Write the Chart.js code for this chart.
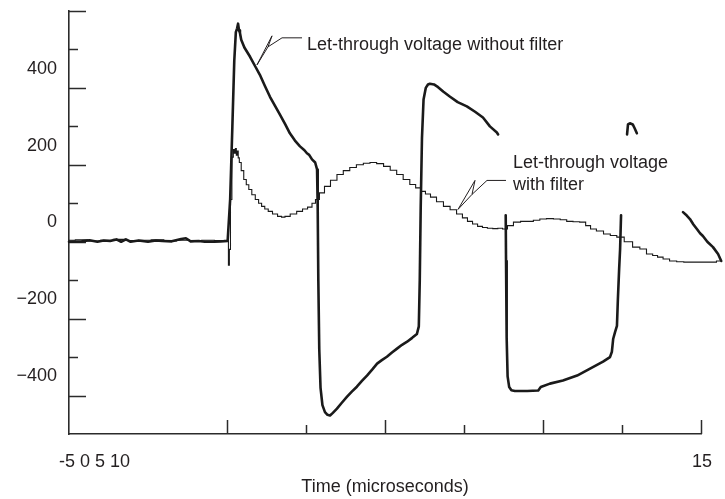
<!DOCTYPE html>
<html>
<head>
<meta charset="utf-8">
<script src="https://cdn.jsdelivr.net/npm/chart.js@4.4.1/dist/chart.umd.min.js"></script>
<style>
html,body{margin:0;padding:0;background:#fff;}
#wrap{width:725px;height:499px;position:relative;}
</style>
</head>
<body>
<div id="wrap"><canvas id="c" width="725" height="499"></canvas></div>
<script>
// ---------- data (time in microseconds, voltage) ----------
const seriesNames = ['Let-through voltage without filter', 'Let-through voltage with filter'];

// thick trace: null marks the parts of the trace that are not visible
const withoutFilter = [
  [-5,-50],[-4.6,-49],[-4.35,-46],[-4.1,-50],[-3.9,-47],[-3.7,-48],[-3.5,-44],[-3.35,-50],[-3.2,-44],[-3.05,-50],
  [-2.8,-47],[-2.5,-50],[-2.25,-47],[-2.05,-48],[-1.75,-49],[-1.45,-43],[-1.3,-41],[-1.15,-49],[-0.9,-48],[-0.7,-50],
  [-0.4,-50],[-0.2,-49],[0.02,-48],
  [0.1,60],[0.17,250],[0.23,420],[0.28,495],[0.32,505],[0.35,517],[0.38,500],[0.41,493],[0.45,475],
  [0.55,455],[0.73,431],[0.9,405],[1.04,384],[1.2,355],[1.36,327],[1.52,303],[1.68,280],[1.84,256],[1.99,232],
  [2.15,213],[2.31,198],[2.45,188],[2.53,180],[2.6,176],[2.69,164],[2.79,156],[2.85,138],
  [2.87,40],[2.89,-150],[2.92,-330],[2.96,-430],[3.02,-475],[3.1,-493],[3.18,-500],[3.26,-502],
  [3.35,-495],[3.48,-484],[3.62,-470],[3.8,-453],[3.95,-440],[4.11,-427],[4.27,-412],[4.43,-398],[4.6,-382],
  [4.75,-367],[4.9,-358],[5.06,-349],[5.22,-338],[5.38,-328],[5.54,-318],[5.7,-310],[5.86,-300],[6.01,-290],[6.07,-270],
  [6.1,-150],[6.13,40],[6.17,220],[6.22,320],[6.29,350],[6.36,359],[6.42,361],[6.55,359],[6.68,352],[6.85,340],
  [7.06,327],[7.3,313],[7.59,302],[7.85,288],[8.1,273],[8.32,250],[8.54,234],[8.58,229],
  [8.7,null],
  [8.82,19],[8.83,-100],[8.85,-300],[8.88,-400],[8.93,-428],[9.0,-436],[9.11,-438],[9.5,-438],[9.85,-437],[9.93,-428],
  [10.22,-419],[10.63,-411],[11.08,-398],[11.49,-380],[11.9,-362],[12.12,-350],[12.18,-336],[12.22,-303],[12.28,-285],
  [12.34,-269],[12.37,-199],[12.41,-120],[12.44,-69],[12.47,19],
  [12.55,null],
  [12.66,229],[12.69,255],[12.75,258],[12.84,255],[12.9,245],[12.97,232],
  [13.5,null],
  [14.43,27],[14.55,18],[14.65,9],[14.76,-5],[14.87,-17],[14.97,-28],[15.06,-35],[15.2,-50],[15.38,-64],[15.54,-82],[15.64,-100]
];

// thin trace
const withFilter = [
  [-5,-46],[-4.6,-45],[-4.2,-48],[-3.8,-46],[-3.4,-44],[-3.0,-47],[-2.6,-46],[-2.2,-45],[-1.8,-48],[-1.4,-46],
  [-1.0,-47],[-0.6,-46],[-0.2,-47],[0.03,-46],[0.06,-111],[0.09,-70],[0.13,60],[0.18,170],[0.22,190],[0.25,180],
  [0.28,192],[0.31,175],[0.34,186],[0.37,168],[0.41,156],[0.49,135],[0.57,112],[0.65,98],[0.73,86],[0.84,72],
  [0.95,60],[1.05,50],[1.14,42],[1.25,35],[1.36,29],[1.52,22],[1.68,16],[1.77,14],[1.9,16],[2.1,22],
  [2.31,29],[2.47,35],[2.63,40],[2.75,50],[2.85,60],[3.0,77],[3.17,94],[3.38,110],[3.58,125],[3.78,135],
  [3.99,143],[4.2,150],[4.43,154],[4.62,156],[4.85,153],[5.06,146],[5.27,136],[5.47,125],[5.68,112],[5.89,99],
  [6.05,90],[6.2,81],[6.36,74],[6.52,66],[6.74,54],[6.96,42],[7.16,33],[7.37,22],[7.53,12],[7.69,3],
  [7.85,-4],[8.01,-10],[8.16,-13],[8.32,-15],[8.5,-16],[8.64,-15],[8.8,-17],[8.95,-8],[9.18,1],[9.4,3],
  [9.59,3],[9.8,6],[10.0,9],[10.22,10],[10.44,9],[10.65,7],[10.85,3],[11.05,2],[11.27,1],[11.43,-8],
  [11.58,-17],[11.8,-22],[12.03,-30],[12.23,-34],[12.44,-38],[12.7,-50],[12.97,-64],[13.16,-69],[13.39,-82],[13.55,-86],
  [13.7,-90],[13.9,-95],[14.11,-100],[14.35,-102],[14.56,-103],[14.8,-103],[14.97,-103],[15.2,-103],[15.38,-103],[15.6,-100]
];

// axis ticks / labels
const xRange = [-5, 15];
const yRange = [-550, 550];
const xTickLabels = ['-5 0 5 10', '15'];
const xMarkValues = [0, 2.5, 5, 7.5, 10, 12.5, 15];
const yTickLabelValues = [-400, -200, 0, 200, 400];
const yMarkValues = [450, 350, 250, 150, 50, -50, -150, -250, -350, -450, 550];
const xTitle = 'Time (microseconds)';

// annotations: arrow tip in data units
const annotations = [
  { tip: [0.95, 410], text: ['Let-through voltage without filter'] },
  { tip: [7.31, 34], text: ['Let-through voltage', 'with filter'] }
];

// ---------- chart ----------
const FONT = '"Liberation Sans", Arial, Helvetica, sans-serif';
const INK = '#231f20';
const AXIS = '#2b2b2b';
Chart.defaults.font.family = FONT;
Chart.defaults.color = INK;

const toPts = arr => arr.map(p => ({ x: p[0], y: p[1] }));

const decor = {
  id: 'decor',
  beforeDatasetsDraw(chart) {
    const { ctx, chartArea, scales: { x, y } } = chart;
    ctx.save();
    ctx.strokeStyle = AXIS;
    ctx.lineWidth = 1.5;
    // inward y tick marks
    yMarkValues.forEach(v => {
      const py = Math.round(y.getPixelForValue(v)) + 0.5;
      const len = ((550 - v) % 200 === 0) ? 17 : 9;
      ctx.beginPath(); ctx.moveTo(chartArea.left, py); ctx.lineTo(chartArea.left + len, py); ctx.stroke();
    });
    // inward x tick marks
    xMarkValues.forEach(v => {
      const px = Math.round(x.getPixelForValue(v)) + 0.5;
      const len = (v % 5 === 0) ? 14 : 9;
      ctx.beginPath(); ctx.moveTo(px, chartArea.bottom); ctx.lineTo(px, chartArea.bottom - len); ctx.stroke();
    });
    ctx.restore();
  },
  afterDraw(chart) {
    const { ctx, chartArea, scales: { x, y } } = chart;
    ctx.save();
    ctx.fillStyle = INK;
    ctx.font = '18px ' + FONT;
    ctx.textBaseline = 'alphabetic';
    // x tick labels
    const base = chartArea.bottom + 33;
    ctx.textAlign = 'left';
    ctx.fillText(xTickLabels[0], x.getPixelForValue(xRange[0]) - 10, base);
    ctx.textAlign = 'center';
    ctx.fillText(xTickLabels[1], x.getPixelForValue(xRange[1]) + 1, base);

    // annotation leaders
    const shapes = [
      [[45,-27],[25,-27],[11,-18],[0,0],[15,-29],[11,-18]],
      [[48,-29],[29,-29],[14,-15],[0,0],[17,-29],[14,-15]]
    ];
    const textOff = [[50, -15], [55, -41]];
    ctx.strokeStyle = INK;
    ctx.lineWidth = 1;
    annotations.forEach((a, i) => {
      const tx = x.getPixelForValue(a.tip[0]);
      const ty = y.getPixelForValue(a.tip[1]);
      ctx.beginPath();
      shapes[i].forEach((p, j) => {
        if (j === 0) ctx.moveTo(tx + p[0], ty + p[1]); else ctx.lineTo(tx + p[0], ty + p[1]);
      });
      ctx.stroke();
      ctx.textAlign = 'left';
      a.text.forEach((t, k) => ctx.fillText(t, tx + textOff[i][0], ty + textOff[i][1] + k * 22));
    });
    ctx.restore();
  }
};

new Chart(document.getElementById('c'), {
  type: 'line',
  data: {
    datasets: [
      {
        label: seriesNames[0],
        data: toPts(withoutFilter),
        borderColor: '#1a1a1a',
        borderWidth: 2.6,
        pointRadius: 0,
        tension: 0,
        spanGaps: false,
        clip: false,
        borderJoinStyle: 'round',
        borderCapStyle: 'round'
      },
      {
        label: seriesNames[1],
        data: toPts(withFilter),
        borderColor: '#1a1a1a',
        borderWidth: 1.1,
        pointRadius: 0,
        tension: 0,
        stepped: 'middle',
        clip: false
      }
    ]
  },
  options: {
    responsive: false,
    animation: false,
    devicePixelRatio: 1,
    layout: { padding: { top: 11, right: 24, left: 0, bottom: 0 } },
    plugins: { legend: { display: false }, tooltip: { enabled: false } },
    scales: {
      x: {
        type: 'linear',
        min: xRange[0],
        bounds: 'data',
        // the upper bound is applied here so that the traces running past 15 µs are still drawn
        afterDataLimits(s) { s.min = xRange[0]; s.max = xRange[1]; },
        grid: { display: false },
        border: { display: true, color: AXIS, width: 1.6 },
        ticks: { display: false },
        title: { display: true, text: xTitle, color: INK, font: { size: 18, family: FONT }, padding: { top: 0, bottom: 1 } },
        afterFit(s) { s.height = 65; s.paddingLeft = 0; s.paddingRight = 0; }
      },
      y: {
        type: 'linear',
        min: yRange[0], max: yRange[1],
        grid: { display: false, drawTicks: false },
        border: { display: true, color: AXIS, width: 1.6 },
        afterBuildTicks(s) { s.ticks = yTickLabelValues.map(v => ({ value: v })); },
        ticks: {
          padding: 12,
          color: INK,
          font: { size: 18, family: FONT },
          callback: v => (v < 0 ? '\u2212' + Math.abs(v) : String(v))
        },
        afterFit(s) { s.width = 69; s.paddingTop = 0; s.paddingBottom = 0; }
      }
    }
  },
  plugins: [decor]
});
</script>
</body>
</html>
